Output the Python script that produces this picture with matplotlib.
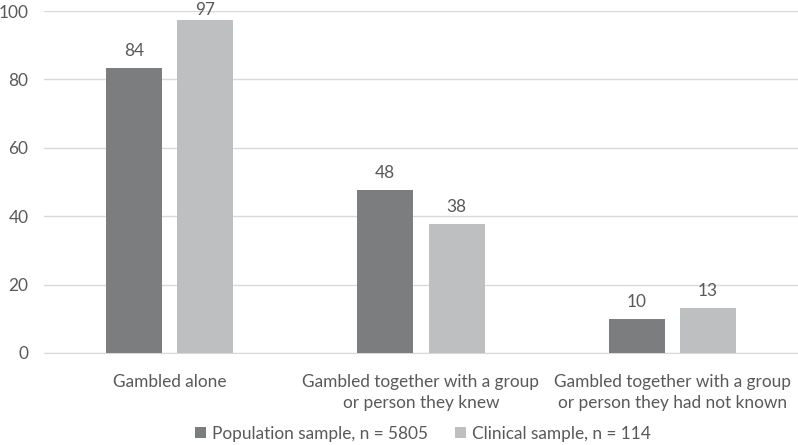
import numpy as np
import matplotlib.pyplot as plt

categories = ['Gambled alone',
              'Gambled together with a group\nor person they knew',
              'Gambled together with a group\nor person they had not known']
population = [83.4, 47.6, 9.9]
clinical = [97.4, 37.7, 13.2]
population_labels = ['84', '48', '10']
clinical_labels = ['97', '38', '13']
series_names = ['Population sample, n = 5805', 'Clinical sample, n = 114']

text_color = '#595959'
fs = 12.4
plt.rcParams['font.family'] = ['Lato', 'DejaVu Sans']
plt.rcParams['font.size'] = fs

fig = plt.figure(figsize=(7.98, 4.45), dpi=100)
ax = fig.add_axes([0.055, 0.207, 0.945, 0.768])

x = np.arange(len(categories))
w = 0.223
off = 0.142
b1 = ax.bar(x - off, population, w, color='#7c7d7f', label=series_names[0], zorder=3)
b2 = ax.bar(x + off, clinical, w, color='#bebfc1', label=series_names[1], zorder=3)

# value labels sit above the bars, squeezed down a little at the very top
for bars, labs in [(b1, population_labels), (b2, clinical_labels)]:
    for r, lab in zip(bars, labs):
        ypos = min(r.get_height() + 3.5, 99.0)
        ax.text(r.get_x() + r.get_width() / 2, ypos, lab,
                ha='center', va='baseline', color=text_color, fontsize=fs)

ax.set_xlim(-0.5, 2.5)
ax.set_ylim(0, 100)
ax.set_yticks(range(0, 101, 20))
ax.yaxis.grid(True, color='#d9d9d9', linewidth=1, zorder=0)
ax.set_xticks(x)
ax.set_xticklabels(categories, color=text_color, linespacing=1.4)
ax.tick_params(axis='both', length=0, colors=text_color, labelsize=fs)
ax.tick_params(axis='x', pad=15)
ax.tick_params(axis='y', pad=11)
for s in ['top', 'right', 'left']:
    ax.spines[s].set_visible(False)
ax.spines['bottom'].set_color('#d9d9d9')

fig.legend(loc='lower center', bbox_to_anchor=(0.53, -0.028), ncol=2, frameon=False,
           handlelength=0.6, handleheight=0.6, handletextpad=0.35, columnspacing=1.6,
           labelcolor=text_color, fontsize=fs)

fig.savefig('out.png', dpi=100)
